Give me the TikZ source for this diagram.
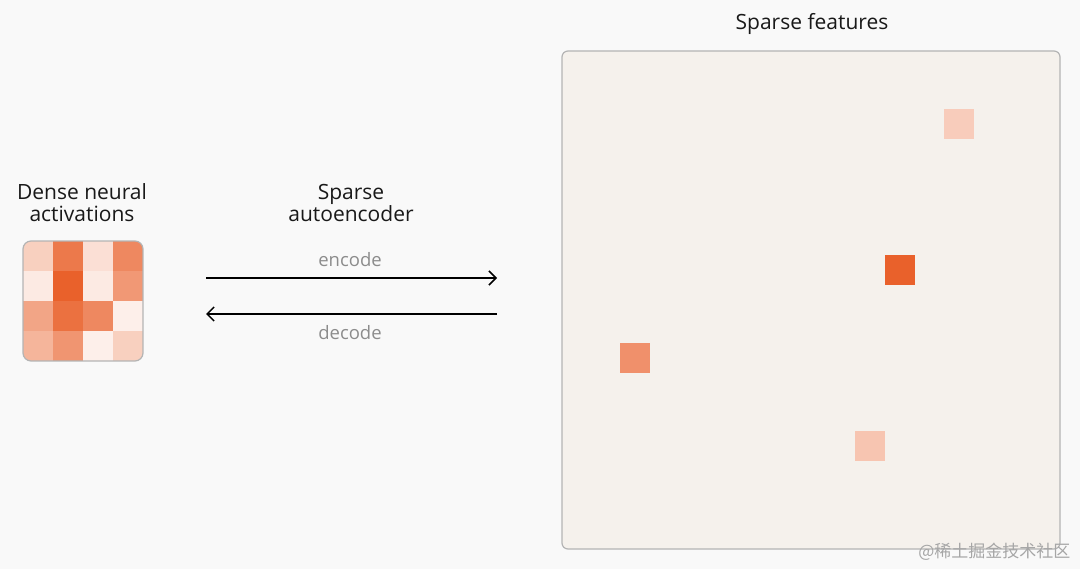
\documentclass[tikz,border=0pt]{standalone}
\usepackage{fontspec}
\setmainfont{Open Sans}
\newfontfamily\cjkfont{Noto Sans CJK SC}
\usepackage{tikz}
\usetikzlibrary{positioning, arrows.meta}

\definecolor{saeorange}{HTML}{E9612B}
\definecolor{pagebg}{HTML}{F9F9F9}
\definecolor{boxbg}{HTML}{F5F1EC}
\definecolor{boxline}{HTML}{B4B4B4}
\definecolor{labelgray}{HTML}{8C8C8C}

\begin{document}
\begin{tikzpicture}[x=1pt, y=-1pt,
    cellnode/.style={rectangle, draw=none, minimum size=30pt, inner sep=0pt, outer sep=0pt},
    featnode/.style={rectangle, draw=none, minimum size=30pt, inner sep=0pt},
    titlenode/.style={align=center, font=\fontsize{21}{22}\selectfont, text=black!90},
    labelnode/.style={font=\fontsize{18.5}{20}\selectfont, text=labelgray},
    codearrow/.style={line width=1.5pt, -{Straight Barb[length=7pt, width=14pt]}}]

        \useasboundingbox[fill=pagebg] (0,0) rectangle (1080,569);

        % dense activations
        \node[titlenode] (dense) at (82,203) {Dense neural\\activations};
        \begin{scope}
        \clip[rounded corners=8pt] (23,241) rectangle (143,361);
        \node[cellnode, fill=saeorange!30!white] (1) at (38,256) {};
        \node[cellnode, fill=saeorange!85!white] (2) [right=0pt of 1] {};
        \node[cellnode, fill=saeorange!20!white] (3) [right=0pt of 2] {};
        \node[cellnode, fill=saeorange!75!white] (4) [right=0pt of 3] {};
        \node[cellnode, fill=saeorange!13!white] (5) [below=0pt of 1] {};
        \node[cellnode, fill=saeorange!100!white] (6) [right=0pt of 5] {};
        \node[cellnode, fill=saeorange!13!white] (7) [right=0pt of 6] {};
        \node[cellnode, fill=saeorange!65!white] (8) [right=0pt of 7] {};
        \node[cellnode, fill=saeorange!57!white] (9) [below=0pt of 5] {};
        \node[cellnode, fill=saeorange!90!white] (10) [right=0pt of 9] {};
        \node[cellnode, fill=saeorange!75!white] (11) [right=0pt of 10] {};
        \node[cellnode, fill=saeorange!10!white] (12) [right=0pt of 11] {};
        \node[cellnode, fill=saeorange!47!white] (13) [below=0pt of 9] {};
        \node[cellnode, fill=saeorange!67!white] (14) [right=0pt of 13] {};
        \node[cellnode, fill=saeorange!10!white] (15) [right=0pt of 14] {};
        \node[cellnode, fill=saeorange!30!white] (16) [right=0pt of 15] {};
        \end{scope}
        \draw[boxline, line width=1.2pt, rounded corners=8pt] (23,241) rectangle (143,361);

        % autoencoder
        \node[titlenode] (sae) at (351,203) {Sparse\\autoencoder};
        \coordinate (encstart) at (206,278);
        \coordinate (encend) at (497,278);
        \coordinate (decstart) at (497,314);
        \coordinate (decend) at (206,314);
        \draw[codearrow] (encstart) -- (encend);
        \draw[codearrow] (decstart) -- (decend);
        \node[labelnode] (enc) at (350,260) {encode};
        \node[labelnode] (dec) at (350,333) {decode};

        % sparse features
        \node[titlenode] (sparse) at (812,24) {Sparse features};
        \draw[boxline, fill=boxbg, line width=1.2pt, rounded corners=6pt] (562,51) rectangle (1060,549);
        \node[featnode, fill=saeorange!32!white] (f1) at (958.5,124) {};
        \node[featnode, fill=saeorange!100!white] (f2) at (899.5,270.5) {};
        \node[featnode, fill=saeorange!70!white] (f3) at (635,358.5) {};
        \node[featnode, fill=saeorange!37!white] (f4) at (870,446.5) {};

        \node[font=\cjkfont\fontsize{17}{20}\selectfont, text=black!35, anchor=east] (mark) at (1074,552) {@稀土掘金技术社区};

        \end{tikzpicture}
\end{document}
